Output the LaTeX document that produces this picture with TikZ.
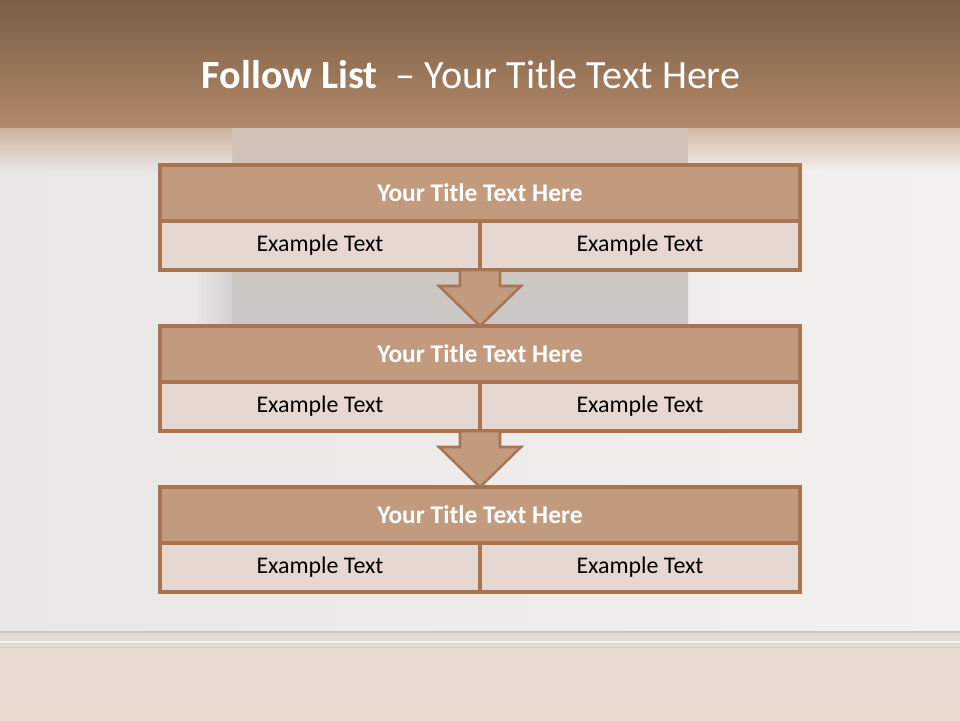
\documentclass[tikz,border=0pt]{standalone}
\usepackage{fontspec}
\setmainfont{Carlito}
\usepackage{tikz}
\usetikzlibrary{positioning,calc}

\definecolor{barfill}{RGB}{194,155,126}
\definecolor{cellfill}{RGB}{230,216,208}
\definecolor{edgebrown}{RGB}{168,117,80}
\definecolor{bandtop}{RGB}{122,94,70}
\definecolor{bandbot}{RGB}{178,136,103}
\definecolor{wallleft}{RGB}{233,231,229}
\definecolor{wallright}{RGB}{243,241,239}
\definecolor{panelgray}{RGB}{201,200,198}
\definecolor{paneltop}{RGB}{210,194,182}
\definecolor{floortop}{RGB}{231,219,210}
\definecolor{floorbot}{RGB}{234,219,207}
\definecolor{boardc}{RGB}{224,219,211}

\begin{document}
\begin{tikzpicture}[
    bar/.style={draw=edgebrown, line width=2.2pt, fill=barfill, outer sep=0pt,
                minimum width=16cm, minimum height=1.4cm, inner sep=0pt,
                text=white, font=\fontsize{18.1}{21}\selectfont\bfseries},
    cell/.style={draw=edgebrown, line width=2.2pt, fill=cellfill, outer sep=0pt,
                 minimum width=8cm, minimum height=1.225cm, inner sep=0pt,
                 text=black, font=\fontsize{17}{20}\selectfont},
    flow/.style={draw=edgebrown, line width=1.8pt, fill=barfill},
  ]
  \useasboundingbox (0,0) rectangle (24,-18);

  % Room backdrop
  \shade[left color=wallleft, right color=wallright] (0,0) rectangle (24,-18);
  \shade[left color=wallleft, right color=panelgray!70!wallleft] (4.9,-3.175) rectangle (5.8,-8.125);
  \shade[top color=paneltop, middle color=panelgray!60!wallleft, bottom color=panelgray]
    (5.8,-3.175) rectangle (17.2,-8.125);
  \shade[top color=bandbot!55!wallleft, bottom color=wallleft] (0,-3.175) rectangle (5.8,-4.3);
  \shade[top color=bandbot!55!wallright, bottom color=wallright] (17.2,-3.175) rectangle (24,-4.3);
  \shade[top color=bandtop, bottom color=bandbot] (0,0) rectangle (24,-3.175);

  % Skirting board and floor
  \fill[boardc] (0,-15.8) rectangle (24,-16.2);
  \draw[boardc!90!black, line width=0.8pt] (0,-15.8) -- (24,-15.8);
  \draw[white!70!boardc, line width=0.8pt] (0,-16.05) -- (24,-16.05);
  \draw[boardc!92!black, line width=0.8pt] (0,-16.2) -- (24,-16.2);
  \shade[top color=floortop, bottom color=floorbot] (0,-16.22) rectangle (24,-18);

  % Heading
  \node[anchor=base, text=white, font=\fontsize{28.5}{34}\selectfont] (heading)
    at (11.78,-2.2) {\textbf{Follow List}~~– Your Title Text Here};

  % Step 1
  \node[bar] (t1) at (12,-4.825) {Your Title Text Here};
  \node[cell, below right=0 and 0 of t1.south west] (l1) {Example Text};
  \node[cell, below left=0 and 0 of t1.south east] (r1) {Example Text};

  % Step 2
  \node[bar, below=1.4 of l1.south east] (t2) {Your Title Text Here};
  \node[cell, below right=0 and 0 of t2.south west] (l2) {Example Text};
  \node[cell, below left=0 and 0 of t2.south east] (r2) {Example Text};

  % Step 3
  \node[bar, below=1.4 of l2.south east] (t3) {Your Title Text Here};
  \node[cell, below right=0 and 0 of t3.south west] (l3) {Example Text};
  \node[cell, below left=0 and 0 of t3.south east] (r3) {Example Text};

  % Block arrows between steps
  \foreach \a/\b in {1/2,2/3}
    \draw[flow] (t\b.north) -- ++(-1.025,1) -- ++(0.525,0) -- ++(0,0.4)
      -- ++(1,0) -- ++(0,-0.4) -- ++(0.525,0) -- cycle;
\end{tikzpicture}
\end{document}
